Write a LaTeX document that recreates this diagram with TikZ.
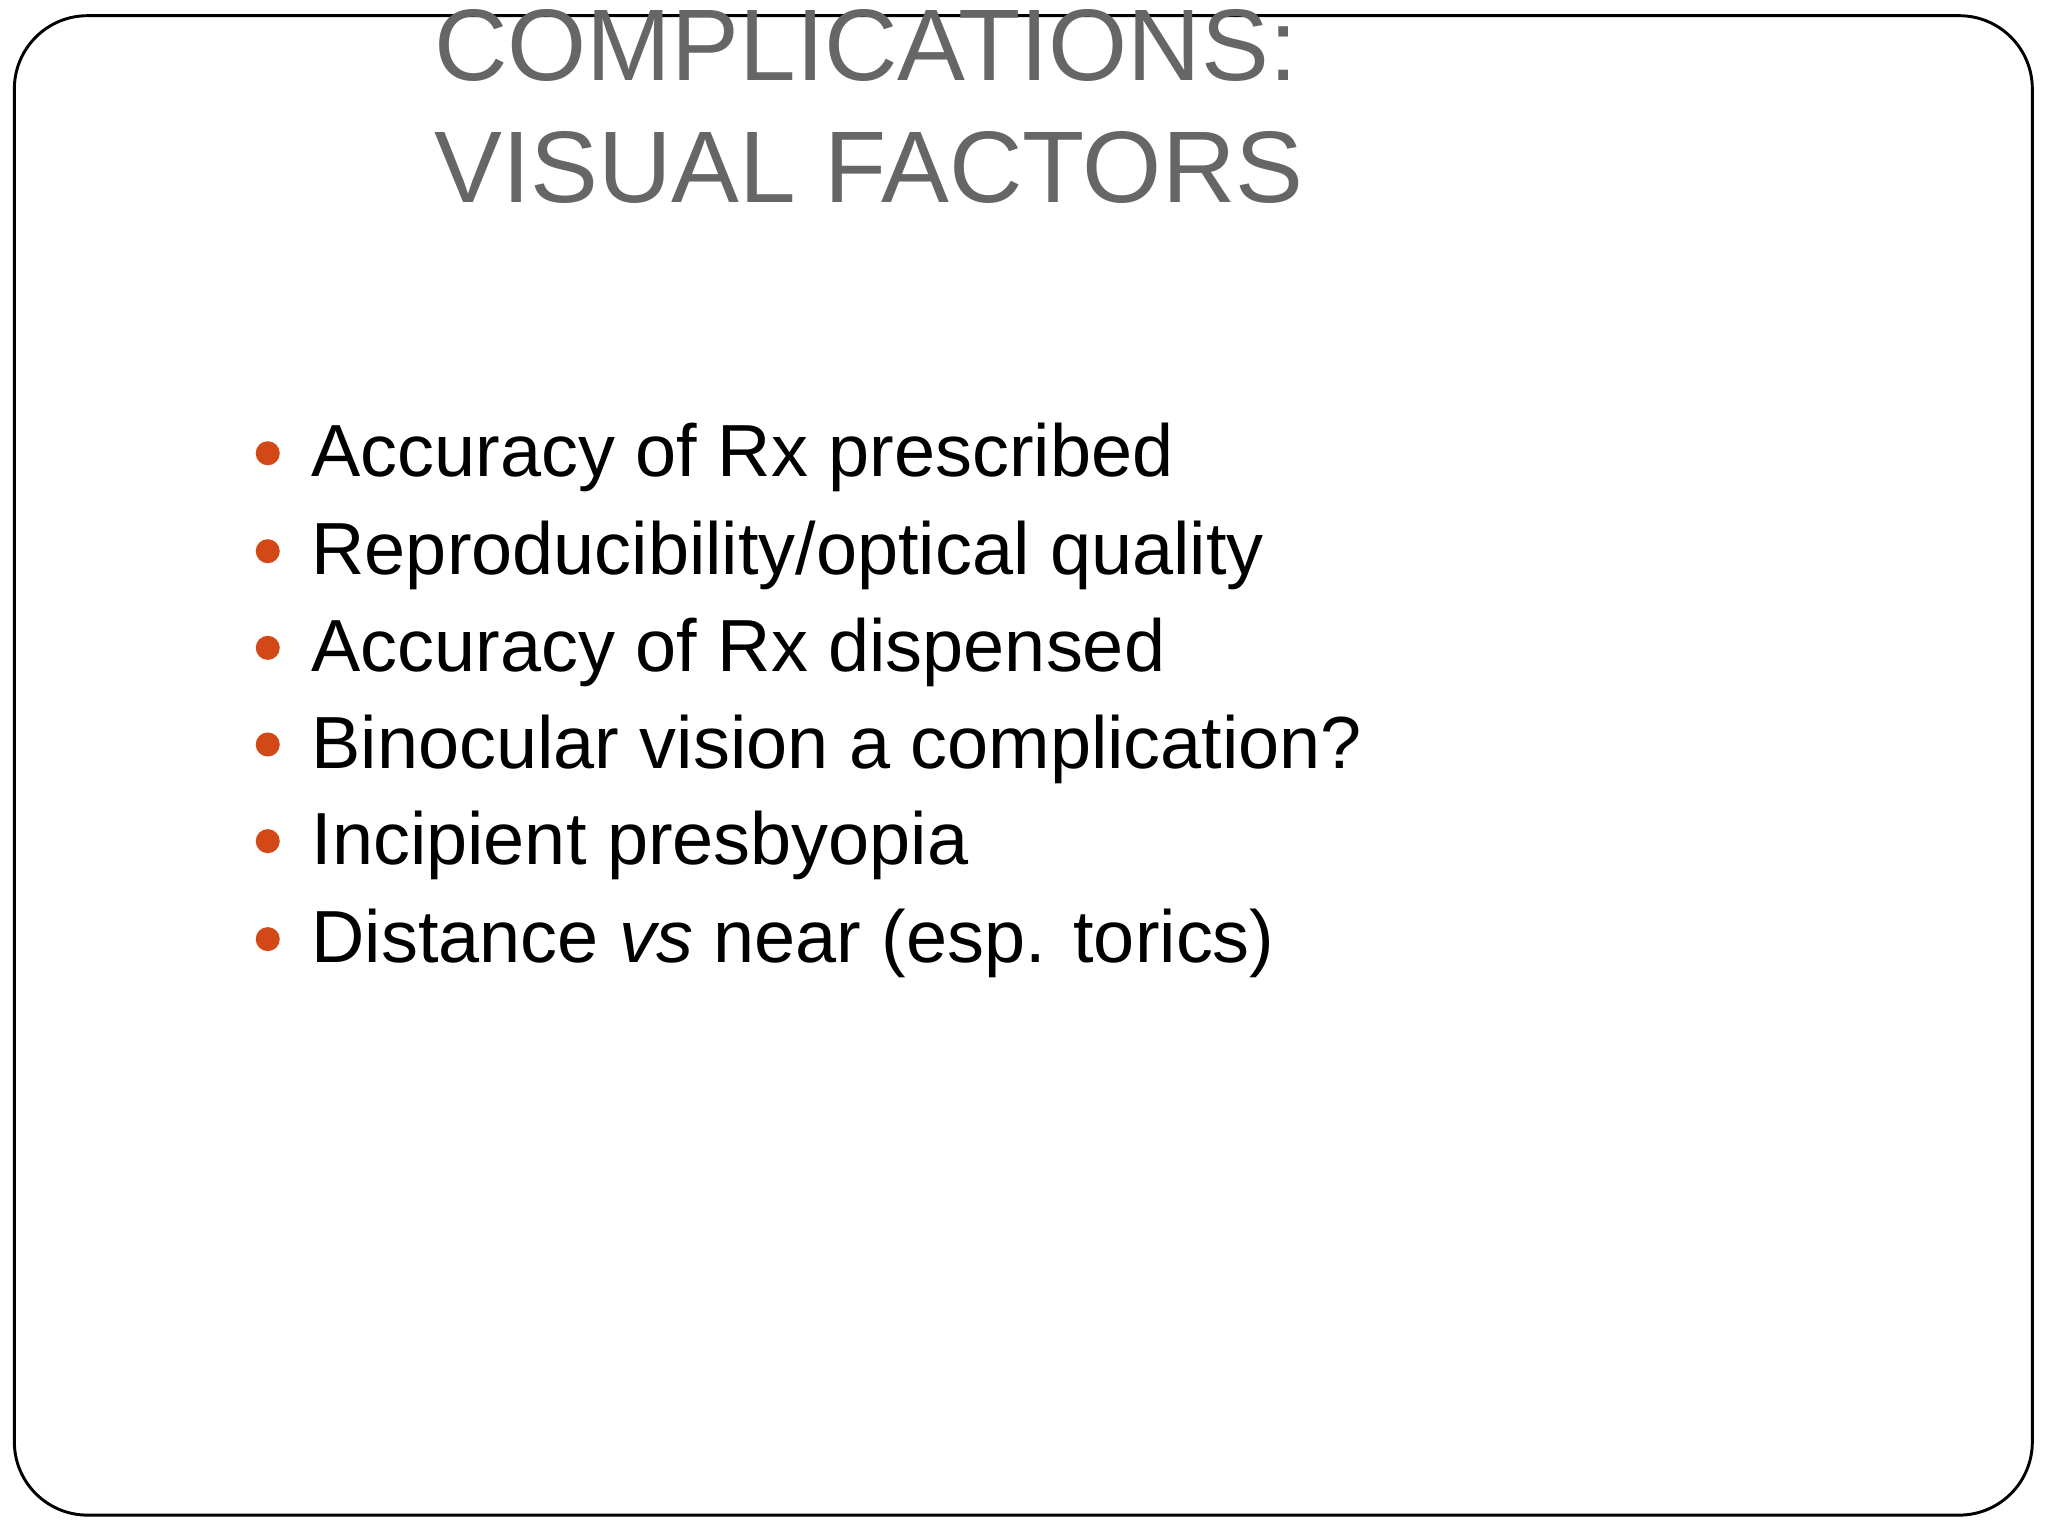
\documentclass[tikz,border=0pt]{standalone}
\usepackage{fontspec}
\setmainfont{Liberation Sans}
\definecolor{titlegray}{HTML}{666666}
\definecolor{bulletor}{HTML}{D34817}
\begin{document}
\begin{tikzpicture}[x=0.0125cm,y=-0.0125cm,
  item/.style={anchor=base west,inner sep=0pt,font=\fontsize{20.1}{24}\selectfont},
  dot/.style={circle,fill=bulletor,inner sep=0pt,minimum size=0.23cm}]
\useasboundingbox (0,0) rectangle (1568,1176);
\draw[line width=0.8pt,rounded corners=0.7cm] (11,12) rectangle (1556,1160);
\node[anchor=base west,inner sep=0pt,text=titlegray,font=\fontsize{27.7}{33}\selectfont] (t1) at (332,62) {COMPLICATIONS:};
\node[anchor=base west,inner sep=0pt,text=titlegray,font=\fontsize{27.7}{33}\selectfont] (t2) at (332,155) {VISUAL FACTORS};
\foreach \i/\y/\t in {1/365/{Accuracy of Rx prescribed},2/440/{Reproducibility/optical quality},3/514/{Accuracy of Rx dispensed},4/588/{Binocular vision a complication?},5/662/{Incipient presbyopia},6/737/{Distance \textit{vs} near (esp. torics)}}{
  \node[item] (b\i) at (238,\y) {\t};
  \node[dot] (d\i) at (205,\y-18) {};
}
\end{tikzpicture}
\end{document}
